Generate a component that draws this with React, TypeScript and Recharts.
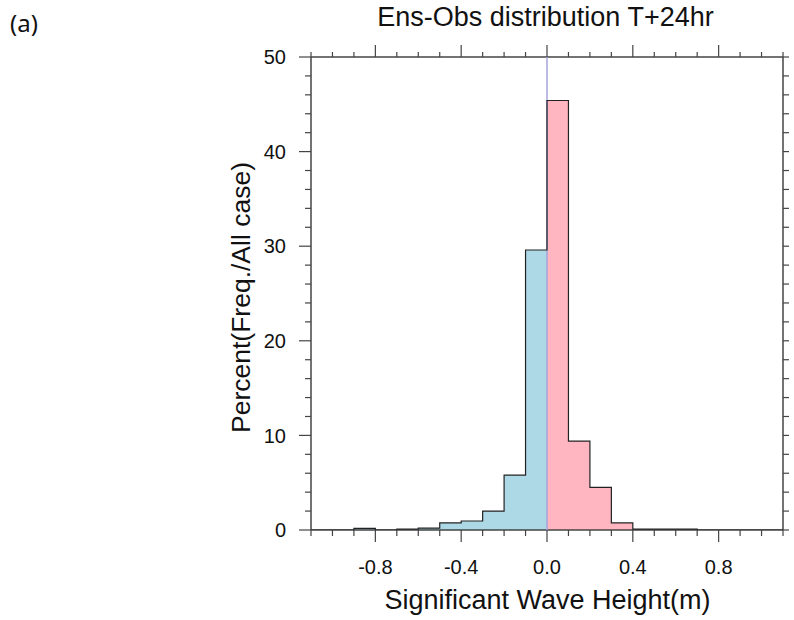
import React from 'react';
import { ComposedChart, Area, XAxis, YAxis, ReferenceLine } from 'recharts';

// Histogram bin left edges (m) and final right edge
const binLeftEdges = [-1.1, -1.0, -0.9, -0.8, -0.7, -0.6, -0.5, -0.4, -0.3, -0.2, -0.1, 0.0, 0.1, 0.2, 0.3, 0.4, 0.5, 0.6, 0.7, 0.8, 0.9, 1.0];
const lastEdge = 1.1;
// Percent (Freq./All case) per bin
const percent = [0, 0, 0.18, 0, 0.1, 0.2, 0.75, 0.95, 2.0, 5.8, 29.6, 45.4, 9.4, 4.5, 0.75, 0.1, 0.1, 0.1, 0, 0, 0, 0];

const xTicks = [-1.1, -1.0, -0.9, -0.8, -0.7, -0.6, -0.5, -0.4, -0.3, -0.2, -0.1, 0.0, 0.1, 0.2, 0.3, 0.4, 0.5, 0.6, 0.7, 0.8, 0.9, 1.0, 1.1];
const xMajorTicks = [-0.8, -0.4, 0.0, 0.4, 0.8];
const yTicks = [0, 2, 4, 6, 8, 10, 12, 14, 16, 18, 20, 22, 24, 26, 28, 30, 32, 34, 36, 38, 40, 42, 44, 46, 48, 50];
const yMajorTicks = [0, 10, 20, 30, 40, 50];

const title = 'Ens-Obs distribution T+24hr';
const xLabel = 'Significant Wave Height(m)';
const yLabel = 'Percent(Freq./All case)';
const panelLabel = '(a)';

const data = [
  ...binLeftEdges.map((x, i) => ({
    x,
    all: percent[i],
    neg: x < 0 ? percent[i] : x === 0 ? 0 : null,
    pos: x >= 0 ? percent[i] : null,
  })),
  { x: lastEdge, all: 0, neg: null, pos: 0 },
];

const AXIS = '#444';
const FONT = '"Liberation Sans", Arial, Helvetica, sans-serif';

const BottomTick = (props: any) => {
  const { x, y, payload } = props;
  const major = xMajorTicks.includes(payload.value);
  return (
    <g>
      <line x1={x} y1={y} x2={x} y2={y + (major ? 12 : 6)} stroke={AXIS} strokeWidth={1.2} />
      {major && (
        <text x={x} y={y + 44} textAnchor="middle" fontSize={20} fontFamily={FONT} fill="#111">
          {payload.value.toFixed(1)}
        </text>
      )}
    </g>
  );
};

const TopTick = (props: any) => {
  const { x, y, payload } = props;
  const major = xMajorTicks.includes(payload.value);
  return <line x1={x} y1={y} x2={x} y2={y - (major ? 12 : 5)} stroke={AXIS} strokeWidth={1.2} />;
};

const LeftTick = (props: any) => {
  const { x, y, payload } = props;
  const major = yMajorTicks.includes(payload.value);
  return (
    <g>
      <line x1={x} y1={y} x2={x - (major ? 12 : 6)} y2={y} stroke={AXIS} strokeWidth={1.2} />
      {major && (
        <text x={x - 25} y={y} dy="0.36em" textAnchor="end" fontSize={20} fontFamily={FONT} fill="#111">
          {String(payload.value)}
        </text>
      )}
    </g>
  );
};

const RightTick = (props: any) => {
  const { x, y } = props;
  return <line x1={x} y1={y} x2={x + 6} y2={y} stroke={AXIS} strokeWidth={1.2} />;
};

export default function App() {
  return (
    <div style={{ position: 'absolute', left: 0, top: 0, width: 794, height: 620, background: '#fff' }}>
      <div style={{ position: 'absolute', left: 10, top: 11, fontFamily: '"Noto Sans", sans-serif', fontSize: 24, lineHeight: '24px', color: '#111' }}>
        {panelLabel}
      </div>
      <div style={{ position: 'absolute', left: 345.5, width: 400, top: 4, textAlign: 'center', fontFamily: FONT, fontSize: 27, lineHeight: '27px', color: '#111', whiteSpace: 'nowrap' }}>
        {title}
      </div>
      <div style={{ position: 'absolute', left: 347.5, width: 400, top: 587, textAlign: 'center', fontFamily: FONT, fontSize: 27, lineHeight: '27px', color: '#111', whiteSpace: 'nowrap' }}>
        {xLabel}
      </div>
      <div style={{ position: 'absolute', left: 41, width: 400, top: 284, height: 27, textAlign: 'center', fontFamily: FONT, fontSize: 26.5, lineHeight: '27px', color: '#111', whiteSpace: 'nowrap', transform: 'rotate(-90deg)' }}>
        {yLabel}
      </div>
      <ComposedChart
        width={794}
        height={620}
        data={data}
        margin={{ top: 47, right: 1, bottom: 50, left: 251 }}
        style={{ position: 'absolute', left: 0, top: 0 }}
      >
        <XAxis
          dataKey="x"
          type="number"
          domain={[-1.1, 1.1]}
          ticks={xTicks}
          interval={0}
          tickSize={0}
          tickMargin={0}
          tickLine={false}
          tick={<BottomTick />}
          axisLine={{ stroke: AXIS, strokeWidth: 1.5 }}
          height={40}
          allowDataOverflow
        />
        <XAxis
          xAxisId="top"
          orientation="top"
          dataKey="x"
          type="number"
          domain={[-1.1, 1.1]}
          ticks={xTicks}
          interval={0}
          tickSize={0}
          tickMargin={0}
          tickLine={false}
          tick={<TopTick />}
          axisLine={{ stroke: AXIS, strokeWidth: 1.5 }}
          height={10}
          allowDataOverflow
        />
        <YAxis
          type="number"
          domain={[0, 50]}
          ticks={yTicks}
          interval={0}
          tickSize={0}
          tickMargin={0}
          tickLine={false}
          tick={<LeftTick />}
          axisLine={{ stroke: AXIS, strokeWidth: 1.5 }}
          width={60}
          allowDataOverflow
        />
        <YAxis
          yAxisId="right"
          orientation="right"
          type="number"
          domain={[0, 50]}
          ticks={yTicks}
          interval={0}
          tickSize={0}
          tickMargin={0}
          tickLine={false}
          tick={<RightTick />}
          axisLine={{ stroke: AXIS, strokeWidth: 1.5 }}
          width={10}
          allowDataOverflow
        />
        <Area
          dataKey="neg"
          type="stepAfter"
          stroke="none"
          fill="#ADD8E6"
          fillOpacity={1}
          isAnimationActive={false}
          dot={false}
          activeDot={false}
        />
        <Area
          dataKey="pos"
          type="stepAfter"
          stroke="none"
          fill="#FFB6C1"
          fillOpacity={1}
          isAnimationActive={false}
          dot={false}
          activeDot={false}
        />
        <ReferenceLine x={0} stroke="#a4a4dc" strokeWidth={1.5} zIndex={500} />
        <Area
          dataKey="all"
          type="stepAfter"
          stroke="#222"
          strokeWidth={1.2}
          fill="none"
          isAnimationActive={false}
          dot={false}
          activeDot={false}
          zIndex={600}
        />
      </ComposedChart>
    </div>
  );
}
